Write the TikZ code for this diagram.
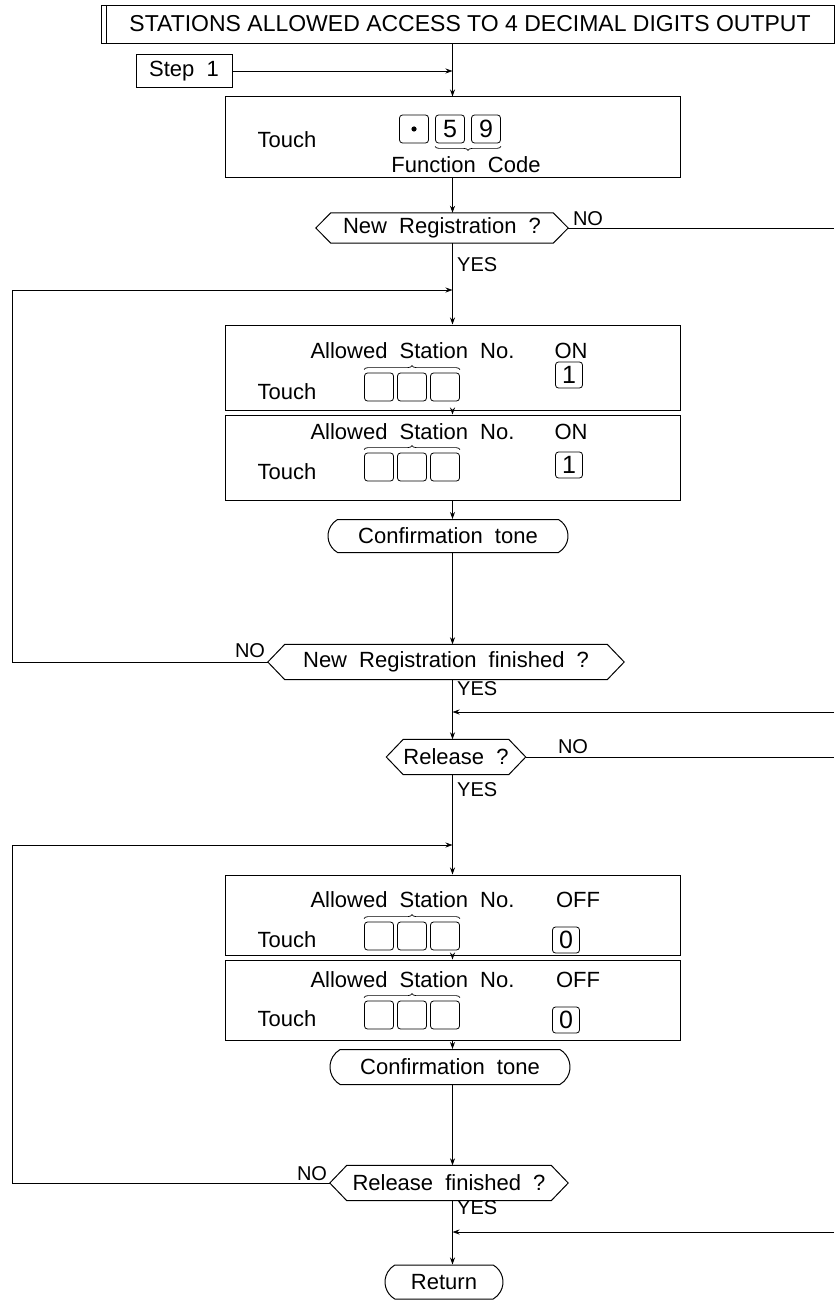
\documentclass[tikz,border=0pt]{standalone}
\usepackage{fontspec}
\setmainfont{Liberation Sans}
\usetikzlibrary{arrows.meta,shapes.misc,decorations.pathreplacing,calc}
\newcommand\gapsp{\hspace{0.55em}}
\newcommand\hexdraw[2]{%
  \draw[line width=1pt] (#1.north west) -- ([xshift=-#2pt]#1.west) coordinate (#1-l)
    -- (#1.south west) -- (#1.south east) -- ([xshift=#2pt]#1.east) coordinate (#1-r)
    -- (#1.north east) -- cycle;}
\begin{document}
\begin{tikzpicture}[x=1pt,y=-1pt,
  every node/.style={font=\fontsize{22}{25}\selectfont},
  procbox/.style={draw, line width=1pt, minimum width=455pt, inner sep=0},
  keybox/.style={draw, rounded corners=3pt, minimum width=29pt, minimum height=28pt, inner sep=0, line width=0.8pt, font=\fontsize{25}{27}\selectfont},
  onekey/.style={keybox, minimum width=27pt, minimum height=26pt},
  term/.style={draw, rounded rectangle, rounded rectangle arc length=120, inner sep=0, line width=1pt},
  dec/.style={inner sep=0},
  lbl/.style={inner sep=0, font=\fontsize{20}{22}\selectfont},
  conn/.style={line width=0.8pt},
  arr/.style={conn, -{Stealth[length=7pt,width=5pt]}},
  bup/.style={decorate, decoration={brace, amplitude=4pt}, line width=0.7pt},
  bdown/.style={decorate, decoration={brace, amplitude=4pt, mirror}, line width=0.7pt}
]
\useasboundingbox (0,0) rectangle (835,1300);

% header
\node[draw, line width=1pt, minimum width=733pt, minimum height=38pt, inner sep=0, anchor=north west] (hdr) at (101,5) {};
\draw[line width=1pt] ([xshift=5pt]hdr.north west) -- ([xshift=5pt]hdr.south west);
\node[font=\fontsize{23}{26}\selectfont] (hdrt) at (470,24) {STATIONS ALLOWED ACCESS TO 4 DECIMAL DIGITS OUTPUT};

% step and touch
\node[draw, line width=1pt, minimum width=96pt, minimum height=33pt, inner sep=0] (step) at (184,71) {Step\gapsp 1};
\node[procbox, minimum height=81pt] (tb) at (452.5,137.5) {};
\draw[arr] (hdr.south -| tb.north) -- (tb.north);
\draw[arr] (step.east) -- (step.east -| tb.north);
\node (tbt) at (287,140) {Touch};
\node[keybox] (kd) at (414,129) {};
\fill (kd.center) circle (2.6pt);
\node[keybox] (k5) at (450,129) {5};
\node[keybox] (k9) at (486,129) {9};
\draw[bdown] ([yshift=-3pt]k5.south west) -- ([yshift=-3pt]k9.south east);
\node (fc) at (466,165) {Function\gapsp Code};

% decision 1
\node[dec, minimum width=222pt, minimum height=30pt] (d1) at (442,228) {New\gapsp Registration\gapsp ?};
\hexdraw{d1}{15}
\draw[arr] (tb.south) -- (tb.south |- d1.north);
\node[lbl] (no1) at (588,219) {NO};
\coordinate (e1) at (834,228);
\draw[conn] (d1-r) -- (e1);
\node[lbl, anchor=west] (yes1) at (457,265) {YES};

% ON box 1
\node[procbox, minimum height=85pt] (on1) at (452.5,367.5) {};
\draw[arr] (tb.south |- d1.south) -- (on1.north);
\coordinate (L1) at (12,290);
\draw[arr] (L1) -- (L1 -| on1.north);
\node[anchor=west] (on1a) at (307,351) {Allowed\gapsp Station\gapsp No.};
\node (on1b) at (571,351) {ON};
\node (on1t) at (287,392) {Touch};
\node[keybox] (a1) at (379,387) {};
\node[keybox] (b1) at (412,387) {};
\node[keybox] (c1) at (445,387) {};
\draw[bup] ([yshift=3pt]a1.north west) -- ([yshift=3pt]c1.north east);
\node[onekey] (one1) at (569,375) {1};

% ON box 2
\node[procbox, minimum height=85pt] (on2) at (452.5,457.5) {};
\draw[arr] (on1.south) -- (on2.north);
\node[anchor=west] (on2a) at (307,432) {Allowed\gapsp Station\gapsp No.};
\node (on2b) at (571,432) {ON};
\node (on2t) at (287,472) {Touch};
\node[keybox] (a2) at (379,467) {};
\node[keybox] (b2) at (412,467) {};
\node[keybox] (c2) at (445,467) {};
\draw[bup] ([yshift=3pt]a2.north west) -- ([yshift=3pt]c2.north east);
\node[onekey] (one2) at (569,465) {1};

% confirmation 1
\node[term, minimum width=240pt, minimum height=33pt] (cf1) at (448,536) {Confirmation\gapsp tone};
\draw[arr] (on2.south) -- (on2.south |- cf1.north);

% decision 2
\node[dec, minimum width=322pt, minimum height=35pt] (d2) at (446,662) {New\gapsp Registration\gapsp finished\gapsp ?};
\hexdraw{d2}{17}
\draw[arr] (on2.south |- cf1.south) -- (on2.south |- d2.north);
\node[lbl] (no2) at (250,651) {NO};
\draw[conn] (d2-l) -| (L1);
\node[lbl, anchor=west] (yes2) at (457,689) {YES};

% release decision
\node[dec, minimum width=102pt, minimum height=35pt] (d3) at (456,757) {Release\gapsp ?};
\hexdraw{d3}{17}
\draw[arr] (on2.south |- d2.south) -- (on2.south |- d3.north);
\coordinate (e2) at (834,712);
\draw[arr] (e2) -- (e2 -| on2.south);
\node[lbl] (no3) at (573,747) {NO};
\coordinate (e3) at (834,757);
\draw[conn] (d3-r) -- (e3);
\node[lbl, anchor=west] (yes3) at (457,790) {YES};

% OFF box 1
\node[procbox, minimum height=80pt] (of1) at (452.5,915) {};
\draw[arr] (on2.south |- d3.south) -- (of1.north);
\coordinate (L2) at (12,845);
\draw[arr] (L2) -- (L2 -| of1.north);
\node[anchor=west] (of1a) at (307,900) {Allowed\gapsp Station\gapsp No.};
\node (of1b) at (578,900) {OFF};
\node (of1t) at (287,940) {Touch};
\node[keybox] (a3) at (379,936) {};
\node[keybox] (b3) at (412,936) {};
\node[keybox] (c3) at (445,936) {};
\draw[bup] ([yshift=3pt]a3.north west) -- ([yshift=3pt]c3.north east);
\node[onekey] (z1) at (566,940) {0};

% OFF box 2
\node[procbox, minimum height=80pt] (of2) at (452.5,1000) {};
\draw[arr] (of1.south) -- (of2.north);
\node[anchor=west] (of2a) at (307,980) {Allowed\gapsp Station\gapsp No.};
\node (of2b) at (578,980) {OFF};
\node (of2t) at (287,1019) {Touch};
\node[keybox] (a4) at (379,1015) {};
\node[keybox] (b4) at (412,1015) {};
\node[keybox] (c4) at (445,1015) {};
\draw[bup] ([yshift=3pt]a4.north west) -- ([yshift=3pt]c4.north east);
\node[onekey] (z2) at (566,1020) {0};

% confirmation 2
\node[term, minimum width=240pt, minimum height=35pt] (cf2) at (450,1067) {Confirmation\gapsp tone};
\draw[arr] (of2.south) -- (of2.south |- cf2.north);

% decision 4
\node[dec, minimum width=204pt, minimum height=35pt] (d4) at (449,1183) {Release\gapsp finished\gapsp ?};
\hexdraw{d4}{17}
\draw[arr] (of2.south |- cf2.south) -- (of2.south |- d4.north);
\node[lbl] (no4) at (312,1174) {NO};
\draw[conn] (d4-l) -| (L2);
\node[lbl, anchor=west] (yes4) at (457,1208) {YES};

% return
\node[term, minimum width=118pt, minimum height=34pt] (ret) at (444,1282) {Return};
\draw[arr] (of2.south |- d4.south) -- (of2.south |- ret.north);
\coordinate (e4) at (834,1232);
\draw[arr] (e4) -- (e4 -| of2.south);
\end{tikzpicture}
\end{document}
